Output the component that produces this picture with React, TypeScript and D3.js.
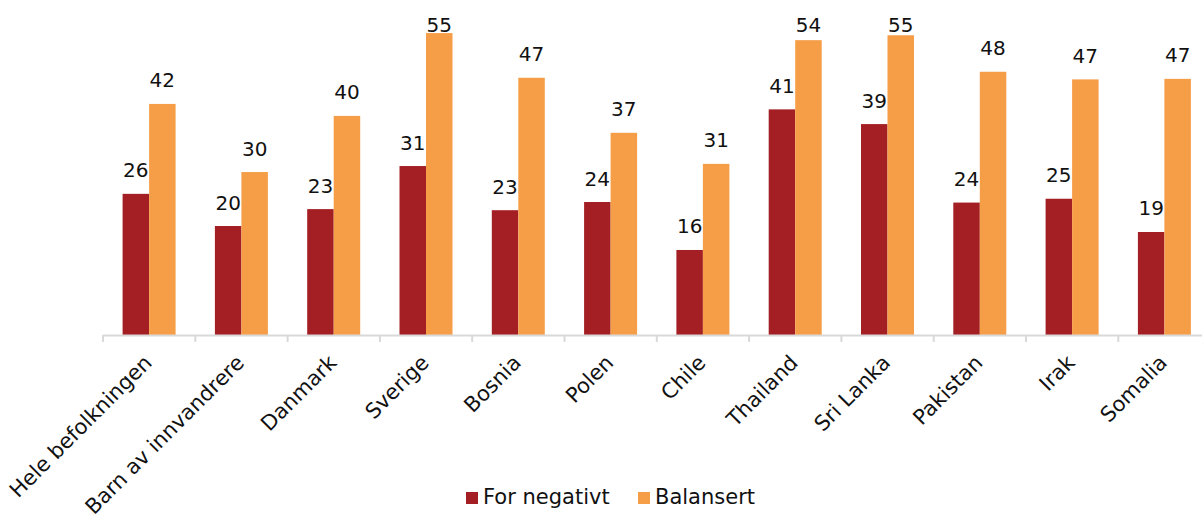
import React from "react";
import * as d3 from "d3";

const categories = ["Hele befolkningen", "Barn av innvandrere", "Danmark", "Sverige", "Bosnia", "Polen", "Chile", "Thailand", "Sri Lanka", "Pakistan", "Irak", "Somalia"];
const forNegativt = [25.9, 20.0, 23.1, 31.0, 22.9, 24.4, 15.6, 41.4, 38.7, 24.3, 25.0, 18.9];
const balansert = [42.4, 29.9, 40.2, 55.4, 47.2, 37.1, 31.4, 54.1, 55.0, 48.3, 46.9, 47.0];
const seriesNames = ["For negativt", "Balansert"];
const colors = ["#A31F24", "#F59E47"];

const W = 1202;
const H = 518;
const x0 = 103;
const band = 92.3;
const baseY = 335;

export default function App() {
  const x = d3.scaleBand<string>().domain(categories).range([x0, x0 + band * categories.length]).paddingInner(0).paddingOuter(0);
  const y = d3.scaleLinear().domain([0, 55]).range([baseY, baseY - 55 * 5.45]);
  const inner = d3.scaleBand<number>().domain([0, 1]).range([19.6, 19.6 + 53]);
  const data = [forNegativt, balansert];
  const font = "'DejaVu Sans', Verdana, sans-serif";
  return (
    <svg width={W} height={H} style={{ position: "absolute", left: 0, top: 0, background: "#fff" }} fontFamily={font}>
      {data.map((vals, si) =>
        vals.map((v, i) => {
          const bx = (x(categories[i]) as number) + (inner(si) as number);
          const bw = inner.bandwidth();
          const ly = Math.max(y(v) - 16.5, 31.5);
          return (
            <g key={`${si}-${i}`}>
              <rect x={bx} y={y(v)} width={bw} height={baseY - y(v)} fill={colors[si]} />
              <text x={bx + bw / 2} y={ly} textAnchor="middle" fontSize={20} fill="#111">
                {Math.round(v)}
              </text>
            </g>
          );
        })
      )}
      <line x1={x0} x2={W} y1={baseY + 0.5} y2={baseY + 0.5} stroke="#d9d9d9" strokeWidth={2} />
      {d3.range(categories.length + 1).map((i) => (
        <line key={i} x1={x0 + i * band} x2={x0 + i * band} y1={baseY} y2={baseY + 7} stroke="#d9d9d9" strokeWidth={2} />
      ))}
      {categories.map((c) => {
        const cx = (x(c) as number) + band / 2 + 4;
        const cy = 364;
        return (
          <text key={c} x={cx} y={cy} fontSize={21} fill="#111" textAnchor="end" transform={`rotate(-45 ${cx} ${cy})`}>
            {c}
          </text>
        );
      })}
      <g>
        <rect x={466} y={492} width={12} height={12} fill={colors[0]} />
        <text x={483} y={504} fontSize={21} fill="#111">{seriesNames[0]}</text>
        <rect x={638} y={492} width={12} height={12} fill={colors[1]} />
        <text x={655} y={504} fontSize={21} fill="#111">{seriesNames[1]}</text>
      </g>
    </svg>
  );
}
